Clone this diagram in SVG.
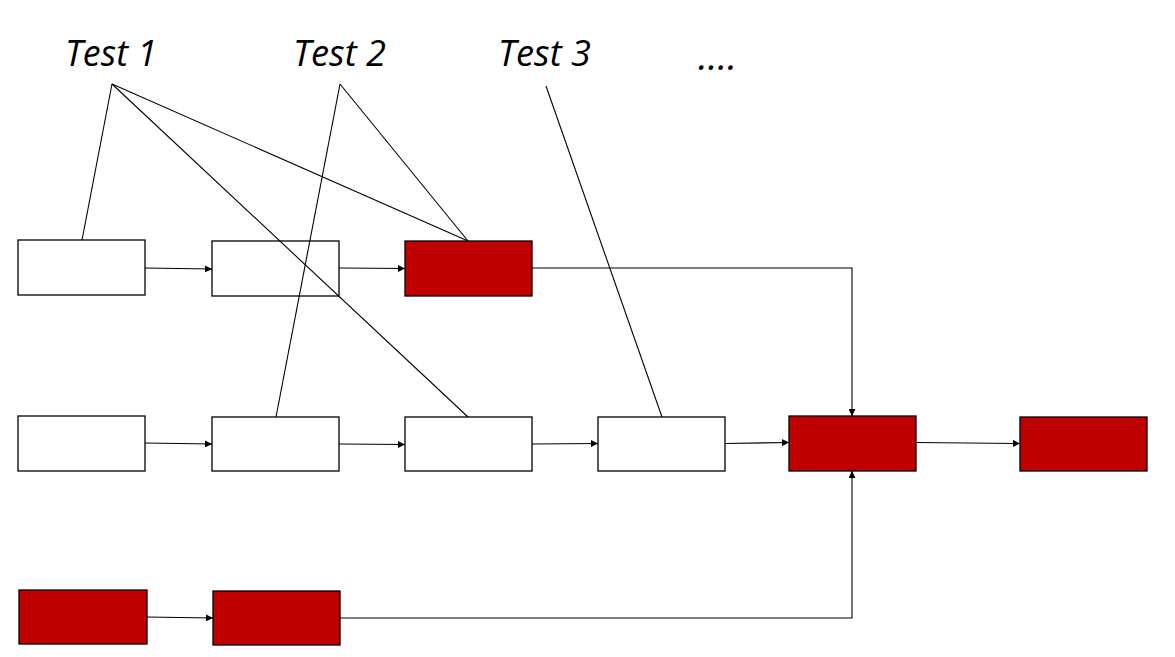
<svg xmlns="http://www.w3.org/2000/svg" width="1175" height="657" viewBox="0 0 1175 657">
<style>
.box{fill:#ffffff;stroke:#000;stroke-width:1.3}
.red{fill:#c00000;stroke:#000;stroke-width:1.3}
.ln{fill:none;stroke:#000;stroke-width:1.1}
.lbl{font-family:"Open Sans","Liberation Sans",sans-serif;font-style:italic;font-size:37px;fill:#000}
</style>
<defs>
<marker id="ah" viewBox="0 0 10 10" refX="10" refY="5" markerWidth="8" markerHeight="7" markerUnits="userSpaceOnUse" orient="auto">
<path d="M0,0 L10,5 L0,10 z" fill="#000"/>
</marker>
</defs>
<rect width="1175" height="657" fill="#fff"/>
<g id="labels">
<text class="lbl" x="65" y="66" textLength="92" lengthAdjust="spacingAndGlyphs">Test 1</text>
<text class="lbl" x="293" y="66" textLength="93" lengthAdjust="spacingAndGlyphs">Test 2</text>
<text class="lbl" x="498" y="66" textLength="93" lengthAdjust="spacingAndGlyphs">Test 3</text>
<text class="lbl" x="698" y="70" textLength="39" lengthAdjust="spacingAndGlyphs">....</text>
</g>
<g id="n1"><rect class="box" x="18" y="240" width="127" height="55"/></g>
<g id="n2"><rect class="box" x="212" y="241" width="127" height="55"/></g>
<g id="n3"><rect class="red" x="405" y="241" width="127" height="55"/></g>
<g id="n4"><rect class="box" x="18" y="416" width="127" height="55"/></g>
<g id="n5"><rect class="box" x="212" y="417" width="127" height="54"/></g>
<g id="n6"><rect class="box" x="405" y="417" width="127" height="54"/></g>
<g id="n7"><rect class="box" x="598" y="417" width="127" height="54"/></g>
<g id="n8"><rect class="red" x="789" y="416" width="127" height="55"/></g>
<g id="n9"><rect class="red" x="1020" y="417" width="127" height="54"/></g>
<g id="n10"><rect class="red" x="19" y="590" width="128" height="54"/></g>
<g id="n11"><rect class="red" x="213" y="591" width="127" height="54"/></g>
<g id="connectors">
<line class="ln" x1="112" y1="84" x2="82" y2="240"/>
<line class="ln" x1="112" y1="84" x2="468" y2="417"/>
<line class="ln" x1="112" y1="84" x2="468" y2="241"/>
<line class="ln" x1="340" y1="84" x2="276" y2="417"/>
<line class="ln" x1="340" y1="84" x2="468" y2="241"/>
<line class="ln" x1="546" y1="86" x2="662" y2="417"/>
<line class="ln" x1="145" y1="268" x2="212" y2="269" marker-end="url(#ah)"/>
<line class="ln" x1="339" y1="268" x2="405" y2="268.5" marker-end="url(#ah)"/>
<polyline class="ln" points="532,268 852,268 852,416" marker-end="url(#ah)"/>
<line class="ln" x1="145" y1="443" x2="212" y2="444" marker-end="url(#ah)"/>
<line class="ln" x1="339" y1="444" x2="405" y2="444.5" marker-end="url(#ah)"/>
<line class="ln" x1="532" y1="444" x2="598" y2="443.5" marker-end="url(#ah)"/>
<line class="ln" x1="725" y1="443.5" x2="789" y2="442.5" marker-end="url(#ah)"/>
<line class="ln" x1="916" y1="442.5" x2="1020" y2="443.5" marker-end="url(#ah)"/>
<line class="ln" x1="147" y1="617" x2="213" y2="618" marker-end="url(#ah)"/>
<polyline class="ln" points="340,618 852,618 852,471" marker-end="url(#ah)"/>
</g>
</svg>
